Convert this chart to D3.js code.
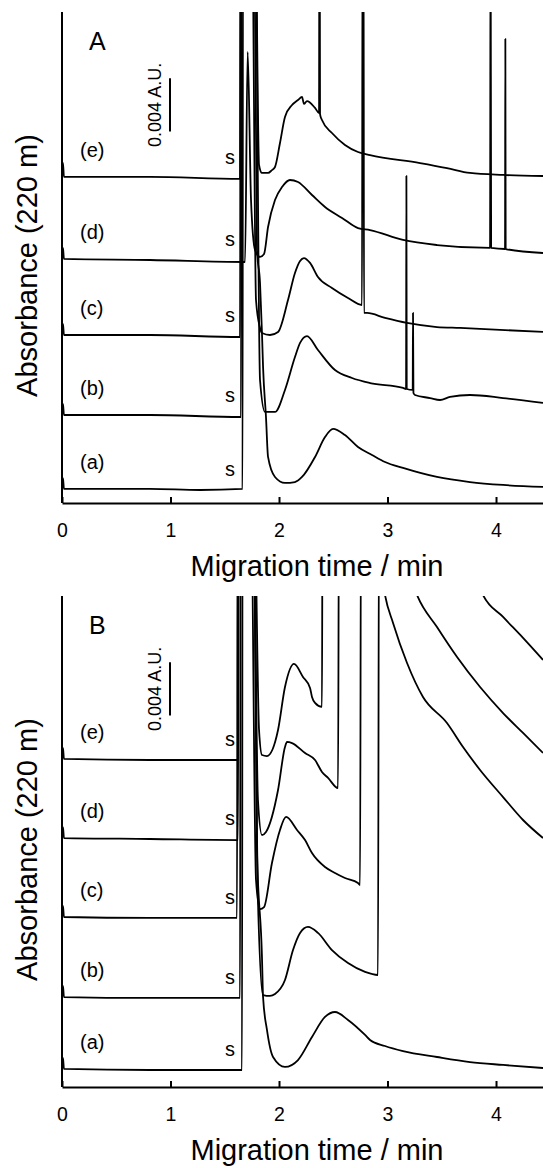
<!DOCTYPE html>
<html>
<head>
<meta charset="utf-8">
<script src="https://cdn.jsdelivr.net/npm/d3@7"></script>
<style>
  body { margin: 0; background: #fff; }
  svg { display: block; }
  text { font-family: "Liberation Sans", Arial, sans-serif; fill: #000; }
</style>
</head>
<body>
<svg></svg>
<script>
// electropherograms, time in min, absorbance in mAU (traces already offset)
var OFF = 45; // off scale

var traceNames = ['(a)', '(b)', '(c)', '(d)', '(e)'];
var timeTicks = [0, 1, 2, 3, 4];

// panel A
var aTraceA = [[0,1.13],[0.009,1.88],[0.018,1.06],[0.811,1.06],[1.272,0.98],[1.664,1.06],[1.668,OFF],[1.77,OFF],[1.797,19.07],[1.825,16.58],[1.843,12.81],[1.853,10.25],[1.880,6.48],[1.899,3.47],[1.963,1.96],[2.055,1.51],[2.147,1.58],[2.212,1.96],[2.332,3.47],[2.424,4.97],[2.498,5.58],[2.608,5.12],[2.728,4.22],[2.857,3.62],[2.977,3.09],[3.143,2.64],[3.456,1.96],[3.760,1.58],[4.065,1.36],[4.433,1.21]];
var aTraceB = [[0,6.71],[0.009,7.46],[0.018,6.63],[0.811,6.63],[1.650,6.48],[1.655,OFF],[1.779,OFF],[1.825,9.27],[1.871,6.86],[1.963,6.86],[2.055,8.52],[2.147,11.00],[2.194,12.06],[2.258,12.58],[2.359,11.53],[2.516,10.02],[2.673,9.42],[2.839,9.04],[3.143,8.67],[3.171,8.59],[3.174,24.64],[3.177,8.59],[3.232,8.52],[3.235,14.32],[3.239,8.29],[3.253,8.14],[3.392,7.91],[3.484,7.76],[3.576,7.99],[3.760,8.14],[4.065,7.91],[4.433,7.54]];
var aTraceC = [[0,12.74],[0.009,13.49],[0.018,12.66],[0.811,12.66],[1.641,12.51],[1.646,OFF],[1.75,OFF],[1.788,15.30],[1.825,13.19],[1.843,12.81],[1.917,12.66],[1.991,12.89],[2.083,15.30],[2.147,17.33],[2.194,18.24],[2.230,18.46],[2.286,18.09],[2.359,17.03],[2.488,16.20],[2.636,15.45],[2.765,14.92],[2.770,OFF],[2.779,OFF],[2.783,14.32],[2.811,14.32],[2.977,13.95],[3.180,13.57],[3.456,13.26],[3.668,13.19],[4.433,12.89]];
var aTraceD = [[0,18.46],[0.009,19.22],[0.018,18.39],[0.811,18.31],[1.687,18.16],[1.711,33.99],[1.742,22.83],[1.779,19.07],[1.825,18.54],[1.862,18.76],[1.899,20.80],[1.963,22.83],[2.028,23.81],[2.101,24.34],[2.175,24.19],[2.304,23.21],[2.424,22.31],[2.581,21.48],[2.728,20.72],[2.839,20.57],[3.143,19.82],[3.456,19.44],[3.945,19.22],[3.950,OFF],[3.955,19.22],[4.083,19.14],[4.086,34.97],[4.089,19.14],[4.433,18.84]];
var aTraceE = [[0,24.64],[0.009,25.62],[0.018,24.57],[0.811,24.57],[1.641,24.42],[1.646,OFF],[1.78,OFF],[1.816,25.47],[1.843,24.87],[1.899,24.87],[1.935,25.09],[1.963,25.32],[2.009,27.13],[2.055,29.09],[2.120,29.99],[2.175,30.37],[2.212,30.60],[2.230,30.07],[2.258,30.29],[2.332,29.77],[2.369,29.39],[2.372,OFF],[2.375,OFF],[2.378,29.31],[2.396,28.86],[2.488,27.88],[2.608,26.98],[2.728,26.45],[2.839,26.22],[3.300,25.62],[3.548,25.24],[3.760,24.87],[4.065,24.72],[4.433,24.64]];

// panel B
var bTraceA = [[0,1.43],[0.009,2.19],[0.018,1.36],[0.811,1.28],[1.659,1.28],[1.664,OFF],[1.77,OFF],[1.797,17.86],[1.843,9.80],[1.853,6.78],[1.889,4.30],[1.945,2.26],[2.055,1.51],[2.175,2.03],[2.304,3.77],[2.424,5.28],[2.516,5.65],[2.636,5.05],[2.793,3.92],[2.839,3.54],[2.977,3.09],[3.143,2.71],[3.456,2.26],[3.760,1.88],[4.065,1.66],[4.433,1.43]];
var bTraceB = [[0,6.86],[0.009,7.61],[0.018,6.78],[0.811,6.71],[1.641,6.71],[1.646,OFF],[1.76,OFF],[1.806,14.09],[1.853,6.93],[1.917,6.86],[1.963,7.01],[2.055,8.06],[2.129,10.32],[2.194,11.61],[2.267,12.06],[2.359,11.61],[2.488,10.32],[2.636,9.34],[2.793,8.67],[2.912,8.44],[2.922,OFF],[4.433,OFF]];
var bTraceC = [[0,12.89],[0.009,13.64],[0.018,12.81],[0.811,12.74],[1.613,12.74],[1.618,OFF],[1.74,OFF],[1.788,15.60],[1.825,13.41],[1.862,13.56],[1.935,16.88],[2.009,19.37],[2.065,20.35],[2.166,19.37],[2.240,18.61],[2.304,17.63],[2.424,16.58],[2.516,16.13],[2.608,15.75],[2.728,15.37],[2.747,15.22],[2.756,OFF],[3.70,OFF],[3.806,38.58],[3.880,37.08],[4.065,35.42],[4.249,33.84],[4.433,32.18]];
var bTraceD = [[0,18.84],[0.009,19.59],[0.018,18.76],[0.811,18.69],[1.622,18.61],[1.627,OFF],[1.76,OFF],[1.806,21.63],[1.843,18.99],[1.880,19.22],[1.991,22.38],[2.055,25.62],[2.074,26.00],[2.120,25.92],[2.240,25.17],[2.332,24.64],[2.396,23.74],[2.452,23.29],[2.544,22.53],[2.553,OFF],[3.10,OFF],[3.207,38.58],[3.272,37.08],[3.456,34.66],[3.641,32.40],[3.853,30.14],[4.065,28.18],[4.249,26.68],[4.433,25.17]];
var bTraceE = [[0,24.79],[0.009,25.55],[0.018,24.72],[0.811,24.64],[1.622,24.64],[1.627,OFF],[1.77,OFF],[1.816,26.90],[1.843,25.02],[1.889,24.94],[1.991,26.90],[2.055,30.14],[2.138,31.88],[2.221,30.90],[2.286,30.07],[2.304,29.39],[2.332,28.94],[2.396,28.64],[2.401,OFF],[2.85,OFF],[2.931,39.71],[2.977,37.08],[3.051,34.97],[3.180,31.95],[3.327,29.39],[3.548,27.43],[3.696,25.62],[3.853,23.89],[4.065,21.85],[4.249,20.12],[4.433,18.76]];

var scaleBar = 4;      // 0.004 A.U. = 4 mAU
var scaleBarBase = 28;

var width = 543, height = 1168;
var svg = d3.select('svg').attr('width', width).attr('height', height);

var x = d3.scaleLinear().domain([0, 4.433]).range([62, 543]);

var panels = [
  { id: 'A', top: 12, bottom: 503, traces: [aTraceA, aTraceB, aTraceC, aTraceD, aTraceE] },
  { id: 'B', top: 596, bottom: 1087, traces: [bTraceA, bTraceB, bTraceC, bTraceD, bTraceE] }
];

panels.forEach(function(p) {
  var y = d3.scaleLinear().domain([0, 37]).range([p.bottom, p.top]);
  var g = svg.append('g');

  g.append('clipPath').attr('id', 'clip' + p.id)
    .append('rect')
    .attr('x', 60).attr('y', p.top)
    .attr('width', width - 60).attr('height', p.bottom - p.top);

  var line = d3.line()
    .curve(d3.curveMonotoneX)
    .x(function(d) { return x(d[0]); })
    .y(function(d) { return y(d[1]); });

  g.append('g').attr('clip-path', 'url(#clip' + p.id + ')')
    .selectAll('path')
    .data(p.traces)
    .enter()
    .append('path')
    .attr('d', line)
    .attr('fill', 'none')
    .attr('stroke', '#000')
    .attr('stroke-width', 1.8)
    .attr('stroke-linejoin', 'round');

  // trace labels
  p.traces.forEach(function(tr, i) {
    var yb = y(tr[0][1]);
    g.append('text').attr('x', 80).attr('y', yb - 19)
      .style('font-size', '20px').text(traceNames[i]);
    g.append('text').attr('x', 225).attr('y', yb - 12)
      .style('font-size', '20px').text('s');
  });

  // axes
  g.append('line')
    .attr('x1', x(0)).attr('x2', x(0))
    .attr('y1', p.top).attr('y2', p.bottom)
    .attr('stroke', '#000').attr('stroke-width', 2);

  var xAxis = d3.axisBottom(x).tickValues(timeTicks).tickFormat(d3.format('d'))
    .tickSize(-6).tickSizeOuter(0).tickPadding(20);
  var ax = g.append('g').attr('transform', 'translate(0,' + p.bottom + ')').call(xAxis);
  ax.select('.domain').attr('stroke', '#000').attr('stroke-width', 2);
  ax.selectAll('.tick line').attr('stroke', '#000').attr('stroke-width', 2);
  ax.selectAll('.tick text')
    .style('font-family', '"Liberation Sans", Arial, sans-serif')
    .style('font-size', '19.5px').attr('fill', '#000');

  g.append('text')
    .attr('x', 317).attr('y', p.bottom + 73)
    .attr('text-anchor', 'middle')
    .style('font-size', '29px')
    .text('Migration time / min');

  g.append('text')
    .attr('transform', 'translate(37,' + ((p.top + p.bottom) / 2 + 8) + ') rotate(-90)')
    .attr('text-anchor', 'middle')
    .style('font-size', '29px')
    .text('Absorbance (220 m)');

  g.append('text')
    .attr('x', 89).attr('y', p.top + 38)
    .style('font-size', '25px')
    .text(p.id);

  // scale bar
  g.append('line')
    .attr('x1', 170).attr('x2', 170)
    .attr('y1', y(scaleBarBase)).attr('y2', y(scaleBarBase + scaleBar))
    .attr('stroke', '#000').attr('stroke-width', 2);
  g.append('text')
    .attr('transform', 'translate(161,' + y(scaleBarBase + scaleBar / 2) + ') rotate(-90)')
    .attr('text-anchor', 'middle')
    .style('font-size', '18px')
    .text('0.004 A.U.');
});
</script>
</body>
</html>
